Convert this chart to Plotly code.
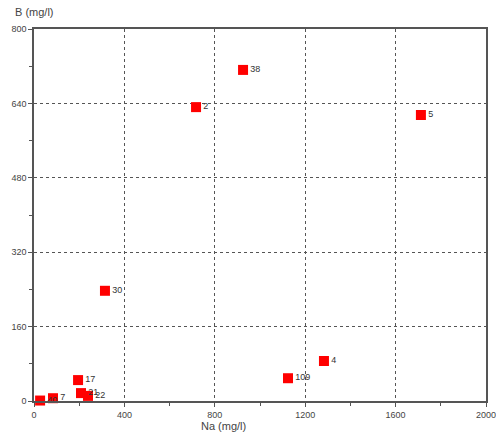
import plotly.graph_objects as go

# Data
labels = ["38", "2", "5", "30", "4", "109", "17", "21", "22", "40", "7"]
na_values = [925, 717, 1712, 314, 1283, 1124, 195, 208, 239, 27, 84]
b_values = [712, 632, 615, 237, 86, 49, 45, 17, 11, 1, 6]

x_ticks = [0, 400, 800, 1200, 1600, 2000]
y_ticks = [0, 160, 320, 480, 640, 800]

fig = go.Figure()
fig.add_trace(go.Scatter(
    x=na_values, y=b_values, mode="markers+text",
    text=labels, textposition="middle right",
    textfont=dict(family="Arial, Liberation Sans, sans-serif", size=9, color="#333333"),
    marker=dict(symbol="square", size=10, color="#ff0000", line=dict(width=0)),
    cliponaxis=False, showlegend=False,
))

axis_common = dict(
    showline=True, linecolor="#555555", linewidth=1.5, mirror=True,
    showgrid=True, gridcolor="#555555", griddash="dot", gridwidth=1,
    zeroline=False, ticks="outside", ticklen=4, tickcolor="#555555",
    tickfont=dict(family="Arial, Liberation Sans, sans-serif", size=9, color="#444444"),
    minor=dict(ticks="outside", ticklen=3, tickcolor="#555555", showgrid=False),
    automargin=False, ticklabeloverflow="allow",
)

fig.update_xaxes(range=[0, 2000], tickvals=x_ticks, minor_dtick=200, **axis_common)
fig.update_yaxes(range=[0, 800], tickvals=y_ticks, minor_dtick=80, **axis_common)

fig.update_layout(
    width=496, height=439,
    margin=dict(l=34, r=10, t=29, b=38),
    plot_bgcolor="white", paper_bgcolor="white",
    font=dict(family="Arial, Liberation Sans, sans-serif"),
    annotations=[
        dict(text="B (mg/l)", x=0, xref="paper", y=1, yref="paper",
             xanchor="center", yanchor="bottom", xshift=0, yshift=9, showarrow=False,
             font=dict(size=11, color="#444444")),
        dict(text="Na (mg/l)", x=0.42, xref="paper", y=0, yref="paper",
             xanchor="center", yanchor="top", yshift=-17, showarrow=False,
             font=dict(size=11, color="#444444")),
    ],
)

fig.write_html("out.html", config={"displayModeBar": False},
               post_script="document.body.style.margin='0';")
